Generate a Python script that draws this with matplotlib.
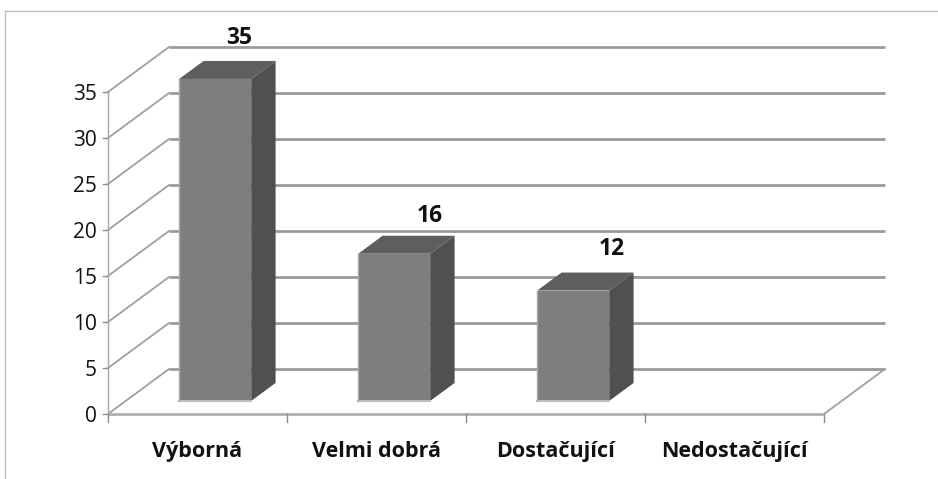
import matplotlib
matplotlib.use('Agg')
import matplotlib.pyplot as plt
from matplotlib.patches import Polygon

plt.rcParams['font.family'] = ['Open Sans', 'DejaVu Sans']

categories = ['Výborná', 'Velmi dobrá', 'Dostačující', 'Nedostačující']
values = [35, 16, 12, 0]
y_ticks = [0, 5, 10, 15, 20, 25, 30, 35]
# where each value label sits from the top of its bar, pixels
label_dx = [24, 36, 39, 0]
label_dy = [41, 38, 42, 0]

W, H = 938, 479
# plot box of the front plane, pixels
left, right, bottom, top = 108, 824, 414, 92
# depth of the 3d box in pixels
depth_x, depth_y = 61, 45

fig = plt.figure(figsize=(W / 100, H / 100), dpi=100)
ax = fig.add_axes([left / W, 1 - bottom / H, (right - left) / W, (bottom - top) / H])
ax.set_xlim(0, len(categories))
ax.set_ylim(0, 35)
ax.patch.set_visible(False)
for s in ax.spines.values():
    s.set_visible(False)

ux = (right - left) / len(categories)
uy = (bottom - top) / 35


def pt(x, y, d=0.0):
    # d = 0 front of the box, 1 back of the box
    return (x + d * depth_x / ux, y + d * depth_y / uy)


def bar3d(x, v, w=72 / ux, d0=0.29, d1=0.69):
    a = x - w / 2
    b = x + w / 2
    ax.add_patch(Polygon([pt(b, 0, d0), pt(b, 0, d1), pt(b, v, d1), pt(b, v, d0)],
                         fc='#505050', ec='none', zorder=5, clip_on=False))
    ax.add_patch(Polygon([pt(a, v, d0), pt(a, v, d1), pt(b, v, d1), pt(b, v, d0)],
                         fc='#5e5e5e', ec='none', zorder=5, clip_on=False))
    ax.add_patch(Polygon([pt(a, 0, d0), pt(b, 0, d0), pt(b, v, d0), pt(a, v, d0)],
                         fc='#7e7e7e', ec='none', zorder=6, clip_on=False))
    p0, p1 = pt(a, 0, d0), pt(b, 0, d0)
    ax.plot([p0[0], p1[0]], [p0[1], p1[1]], color='#bdbdbd', lw=1.5, zorder=7, clip_on=False)
    p0, p1 = pt(a, 0, d0), pt(a, v, d0)
    ax.plot([p0[0], p1[0]], [p0[1], p1[1]], color='#a8a8a8', lw=1, zorder=7, clip_on=False)


# back wall grid and left wall
for t in y_ticks:
    a, b = pt(0, t, 1), pt(len(categories), t, 1)
    ax.plot([a[0], b[0]], [a[1], b[1]], color='#9a9a9a', lw=2, zorder=1, clip_on=False,
            solid_capstyle='butt')
    c = pt(0, t, 0)
    ax.plot([c[0], a[0]], [c[1], a[1]], color='#a0a0a0', lw=1.3, zorder=2, clip_on=False)
    ax.plot([c[0] - 5 / ux, c[0]], [c[1], c[1]], color='#8c8c8c', lw=1, zorder=2, clip_on=False)
    ax.text(c[0] - 11 / ux, c[1] - 2.5 / uy, str(t), ha='right', va='center', fontsize=15,
            color='#111111', clip_on=False)

# right floor edge
a, b = pt(len(categories), 0, 0), pt(len(categories), 0, 1)
ax.plot([a[0], b[0]], [a[1], b[1]], color='#a0a0a0', lw=1.3, zorder=2, clip_on=False)

# axes
ax.plot([0, 0], [0, 35], color='#a8a8a8', lw=1, zorder=3, clip_on=False)
ax.plot([0, len(categories)], [0, 0], color='#b0b0b0', lw=2, zorder=3, clip_on=False,
        solid_capstyle='butt')
for i in range(len(categories) + 1):
    ax.plot([i, i], [0, -8 / uy], color='#8c8c8c', lw=1, zorder=3, clip_on=False)

for i, (name, v) in enumerate(zip(categories, values)):
    x = i + 0.5
    if v > 0:
        bar3d(x, v)
        p = pt(x, v, 0.29)
        ax.annotate(str(v), xy=p, xytext=(label_dx[i] * 0.72, label_dy[i] * 0.72),
                    textcoords='offset points', ha='center', va='center', fontsize=16.5,
                    fontweight='bold', color='#111111', annotation_clip=False, zorder=8)
    ax.text(x, -(457 - bottom) / uy, name, ha='center', va='baseline', fontsize=15.5,
            fontweight='bold', color='#111111', clip_on=False)

ax.set_xticks([])
ax.set_yticks([])

# chart frame
fig.add_artist(plt.Line2D([5 / W, 1], [1 - 11 / H, 1 - 11 / H], color='#bdbdbd', lw=1))
fig.add_artist(plt.Line2D([5 / W, 5 / W], [0, 1 - 11 / H], color='#bdbdbd', lw=1))

fig.savefig('out.png', dpi=100)
